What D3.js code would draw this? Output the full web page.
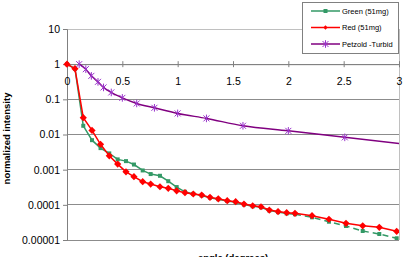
<!DOCTYPE html>
<html>
<head>
<meta charset="utf-8">
<script src="https://cdn.jsdelivr.net/npm/d3@7"></script>
<style>
  body { margin: 0; background: #fff; }
  svg { display: block; font-family: "Liberation Sans", Arial, sans-serif; }
</style>
</head>
<body>
<div id="chart"></div>
<script>
// Angles (degrees) and normalized intensities
const redAngle = [0, 0.072, 0.147, 0.226, 0.303, 0.382, 0.458, 0.533, 0.605, 0.684, 0.756, 0.84, 0.915, 0.991,
    1.066, 1.141, 1.217, 1.292, 1.367, 1.448, 1.524, 1.599, 1.678, 1.753, 1.828, 1.907, 1.985, 2.06,
    2.214, 2.367, 2.521, 2.672, 2.822, 2.979]
const redValue = [1, 0.745, 0.03, 0.0131, 0.00527, 0.00247, 0.00144, 0.00087, 0.00063, 0.000455, 0.00039,
    0.000327, 0.000295, 0.000251, 0.000221, 0.000203, 0.00019, 0.000163, 0.000148, 0.000131, 0.000123,
    0.000105, 0.0000942, 0.0000883, 0.0000711, 0.0000645, 0.0000597, 0.0000575,
    0.000049, 0.0000389, 0.0000298, 0.0000253, 0.0000229, 0.0000177]

const greenAngle = [0, 0.072, 0.147, 0.226, 0.303, 0.382, 0.458, 0.533, 0.605, 0.684, 0.756, 0.84, 0.915, 0.991,
    1.066, 1.141, 1.217, 1.292, 1.367, 1.448, 1.524, 1.599, 1.678, 1.753, 1.828, 1.907, 1.985, 2.06,
    2.214, 2.367, 2.521, 2.672, 2.822, 2.979, 3.05]
const greenValue = [1, 0.74, 0.0177, 0.0069, 0.0041, 0.0029, 0.00196, 0.00175, 0.0014, 0.00095, 0.00075,
    0.00067, 0.00047, 0.00032, 0.000235, 0.000205, 0.000185, 0.00016, 0.000145, 0.000128, 0.000118,
    0.000102, 0.000091, 0.000085, 0.000069, 0.000062, 0.000057, 0.000054,
    0.0000442, 0.0000331, 0.000025, 0.000018, 0.0000148, 0.0000112, 0.0000098]

const petzoldAngle = [0.11, 0.17, 0.22, 0.28, 0.33, 0.4, 0.5, 0.63, 0.79, 1.0, 1.26, 1.59, 2.0, 2.51, 3.16]
const petzoldValue = [1.0, 0.72, 0.465, 0.314, 0.218, 0.157, 0.11, 0.0764, 0.0574, 0.0398, 0.0287, 0.0177,
    0.0127, 0.0083, 0.0049]

const xTicks = [0, 0.5, 1, 1.5, 2, 2.5, 3]
const yTicks = [10, 1, 0.1, 0.01, 0.001, 0.0001, 0.00001]
const seriesNames = ["Green (51mg)", "Red (51mg)", "Petzold -Turbid"]

const width = 408
const height = 257
const plot = { "left": 67, "right": 399, "top": 29, "bottom": 240 }

const svg = d3.select("#chart").append("svg")
    .attr("width", width)
    .attr("height", height)

const x = d3.scaleLinear().domain([0, 3]).range([plot.left, plot.right])
const y = d3.scaleLog().domain([0.00001, 10]).range([plot.bottom, plot.top])

// Gridlines
svg.append("g")
    .selectAll("line")
    .data(yTicks)
    .join("line")
    .attr("x1", plot.left).attr("x2", plot.right)
    .attr("y1", d => y(d)).attr("y2", d => y(d))
    .attr("stroke", d => d === 10 ? "#c0c0c0" : "#8c8c8c")
    .attr("stroke-width", 1)
    .attr("shape-rendering", "crispEdges")

// Right border
svg.append("line")
    .attr("x1", plot.right).attr("x2", plot.right)
    .attr("y1", plot.top).attr("y2", plot.bottom)
    .attr("stroke", "#c0c0c0")
    .attr("shape-rendering", "crispEdges")

// Y axis
const yAxis = svg.append("g")
    .attr("transform", translate(plot.left, 0))
    .call(d3.axisLeft(y).tickValues(yTicks).tickFormat(d => String(d).includes("e") ? d.toFixed(5) : String(d)).tickSize(4).tickPadding(3))
yAxis.select(".domain").attr("stroke", "#808080")
yAxis.selectAll(".tick line").attr("stroke", "#808080")
yAxis.selectAll("text").attr("font-size", 10.5).attr("fill", "#000")

// X axis crossing at y = 1
const xAxis = svg.append("g")
    .attr("transform", translate(0, y(1)))
    .call(d3.axisBottom(x).tickValues(xTicks).tickFormat(d3.format("")).tickSize(3).tickPadding(10))
xAxis.select(".domain").attr("stroke", "#808080")
xAxis.selectAll(".tick line").attr("stroke", "#808080").attr("y1", -3)
xAxis.selectAll("text").attr("font-size", 10.5).attr("fill", "#000")

// Axis titles
svg.append("text")
    .attr("transform", "translate(10," + ((plot.top + plot.bottom) / 2 + 4) + ") rotate(-90)")
    .attr("text-anchor", "middle")
    .attr("font-size", 9.5)
    .attr("font-weight", "bold")
    .text("normalized intensity")
svg.append("text")
    .attr("x", (plot.left + plot.right) / 2)
    .attr("y", 261)
    .attr("text-anchor", "middle")
    .attr("font-size", 9.5)
    .attr("font-weight", "bold")
    .text("angle (degrees)")

// Series
svg.append("clipPath").attr("id", "clip")
    .append("rect")
    .attr("x", plot.left - 6).attr("y", plot.top - 6)
    .attr("width", plot.right - plot.left + 6).attr("height", plot.bottom - plot.top + 6)

const layer = svg.append("g").attr("clip-path", "url(#clip)")

const toPoints = (xs, vs) => xs.map((a, i) => ({ "a": a, "v": vs[i] }))
const green = toPoints(greenAngle, greenValue)
const red = toPoints(redAngle, redValue)
const petzold = toPoints(petzoldAngle, petzoldValue)

const line = d3.line().x(d => x(d.a)).y(d => y(d.v))
const smooth = d3.line().x(d => x(d.a)).y(d => y(d.v)).curve(d3.curveMonotoneX)

const greenColor = "#339966"
const redColor = "#ff0000"
const purpleColor = "#800080"
const starColor = "#9933cc"

const squarePath = d3.symbol(d3.symbolSquare, 16)()
const diamondPath = d3.symbol(d3.symbolSquare, 26)()
const starPath = "M-3,-3L3,3M-3,3L3,-3M0,-3.8L0,3.8"

// Green: solid, dashed on the tail
layer.append("path")
    .attr("d", line(green.filter(d => d.a <= 2.06)))
    .attr("fill", "none").attr("stroke", greenColor).attr("stroke-width", 1.5)
layer.append("path")
    .attr("d", line(green.filter(d => d.a >= 2.06)))
    .attr("fill", "none").attr("stroke", greenColor).attr("stroke-width", 1.5)
    .attr("stroke-dasharray", "6,4")
layer.selectAll(".gm").data(green).join("path")
    .attr("class", "gm")
    .attr("d", squarePath)
    .attr("transform", d => translate(x(d.a), y(d.v)))
    .attr("fill", greenColor)

// Red
layer.append("path")
    .attr("d", line(red))
    .attr("fill", "none").attr("stroke", redColor).attr("stroke-width", 1.5)
layer.selectAll(".rm").data(red).join("path")
    .attr("class", "rm")
    .attr("d", diamondPath)
    .attr("transform", d => translate(x(d.a), y(d.v)) + " rotate(45)")
    .attr("fill", redColor)

// Petzold
layer.append("path")
    .attr("d", smooth(petzold))
    .attr("fill", "none").attr("stroke", purpleColor).attr("stroke-width", 1.5)
layer.selectAll(".pm").data(petzold).join("path")
    .attr("class", "pm")
    .attr("d", starPath)
    .attr("transform", d => translate(x(d.a), y(d.v)))
    .attr("fill", "none").attr("stroke", starColor).attr("stroke-width", 1)

// Legend
const legend = svg.append("g")
legend.append("rect")
    .attr("x", 302.5).attr("y", 2.5).attr("width", 96).attr("height", 51)
    .attr("fill", "#fff").attr("stroke", "#808080")
const legendMarks = [
    { "color": greenColor, "mark": squarePath, "rot": "", "fill": greenColor, "stroke": "none" },
    { "color": redColor, "mark": diamondPath, "rot": " rotate(45)", "fill": redColor, "stroke": "none" },
    { "color": purpleColor, "mark": starPath, "rot": "", "fill": "none", "stroke": starColor }
]
seriesNames.forEach((name, i) => {
    const ly = 11 + i * 16.5
    const m = legendMarks[i]
    legend.append("line")
        .attr("x1", 311).attr("x2", 340).attr("y1", ly).attr("y2", ly)
        .attr("stroke", m.color).attr("stroke-width", 1.5)
    legend.append("path")
        .attr("d", m.mark)
        .attr("transform", translate(325.5, ly) + m.rot + (i === 1 ? " scale(0.6)" : ""))
        .attr("fill", m.fill).attr("stroke", m.stroke)
    legend.append("text")
        .attr("x", 342).attr("y", ly + 2.7)
        .attr("font-size", 7.5)
        .text(name)
})

function translate(x, y) {
    return `translate(${x},${y})`
}
</script>
</body>
</html>
